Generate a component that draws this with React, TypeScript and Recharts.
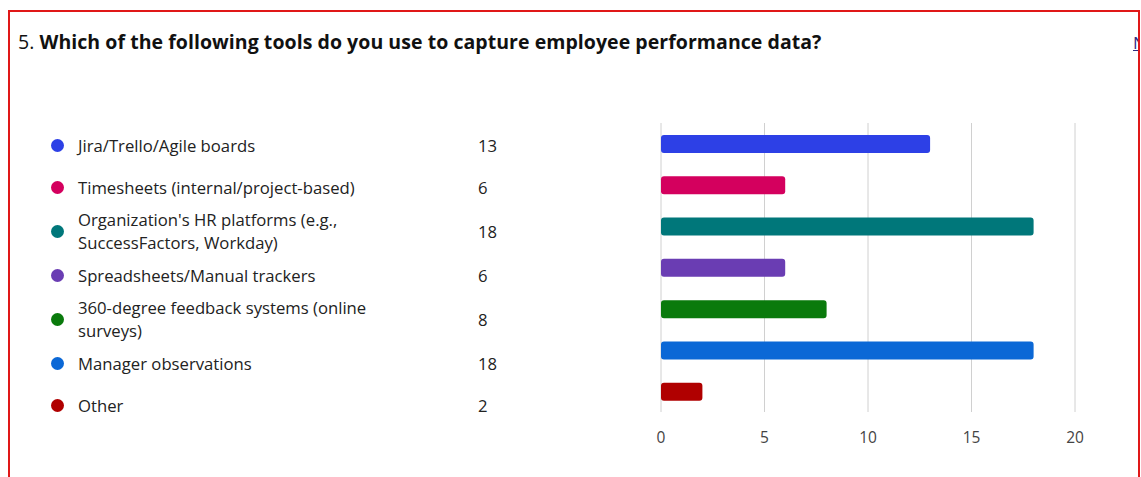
import { Bar, BarChart, CartesianGrid, Cell, XAxis, YAxis } from "recharts";

const categories = [
  "Jira/Trello/Agile boards",
  "Timesheets (internal/project-based)",
  "Organization's HR platforms (e.g., SuccessFactors, Workday)",
  "Spreadsheets/Manual trackers",
  "360-degree feedback systems (online surveys)",
  "Manager observations",
  "Other",
];
const counts = [13, 6, 18, 6, 8, 18, 2];
const colors = ["#2d40e6", "#d4005e", "#00777a", "#6a3db3", "#0a7a0c", "#0b68d6", "#b00000"];
const xTicks = [0, 5, 10, 15, 20];

const FONT = "'Open Sans', sans-serif";

export default function App() {
  const data = categories.map((name, i) => ({ name, value: counts[i] }));

  return (
    <div style={{ position: "fixed", left: 0, top: 0, width: 1141, height: 477, background: "#fff", overflow: "hidden", fontFamily: FONT }}>
      <div
        style={{
          position: "absolute",
          left: 8,
          top: 10,
          width: 1128,
          height: 480,
          borderTop: "2px solid #e01818",
          borderLeft: "2px solid #e01818",
          borderRight: "2px solid #e01818",
          overflow: "hidden",
        }}
      >
        <div style={{ position: "absolute", left: 8, top: 16, fontSize: 19.5, color: "#111", whiteSpace: "nowrap", letterSpacing: 0.05 }}>
          5. <b>Which of the following tools do you use to capture employee performance data?</b>
        </div>
        <div style={{ position: "absolute", left: 1123, top: 19, fontSize: 17, color: "#2e2a80", textDecoration: "underline" }}>N</div>
      </div>

      <div style={{ position: "absolute", left: 0, top: 124, width: 560 }}>
        {data.map((d, i) => (
          <div key={d.name} style={{ display: "flex", alignItems: "center", minHeight: 42, fontSize: 16.7, color: "#222" }}>
            <span style={{ width: 13, height: 13, borderRadius: 7, background: colors[i], marginLeft: 51, flex: "none" }} />
            <span style={{ marginLeft: 14, width: 305, lineHeight: "23px" }}>{d.name}</span>
            <span style={{ marginLeft: 95 }}>{d.value}</span>
          </div>
        ))}
      </div>

      <div style={{ position: "absolute", left: 600, top: 100 }}>
        <BarChart width={500} height={370} data={data} layout="vertical" margin={{ top: 23, right: 25, bottom: 28, left: 61 }}>
          <CartesianGrid horizontal={false} stroke="#d0d0d0" />
          <XAxis
            type="number"
            domain={[0, 20]}
            ticks={xTicks}
            axisLine={false}
            tickLine={false}
            tickMargin={14}
            tick={{ fontSize: 15.5, fill: "#444", fontFamily: FONT }}
          />
          <YAxis type="category" dataKey="name" hide />
          <Bar dataKey="value" barSize={18} radius={3} isAnimationActive={false}>
            {data.map((d, i) => (
              <Cell key={d.name} fill={colors[i]} />
            ))}
          </Bar>
        </BarChart>
      </div>
    </div>
  );
}
